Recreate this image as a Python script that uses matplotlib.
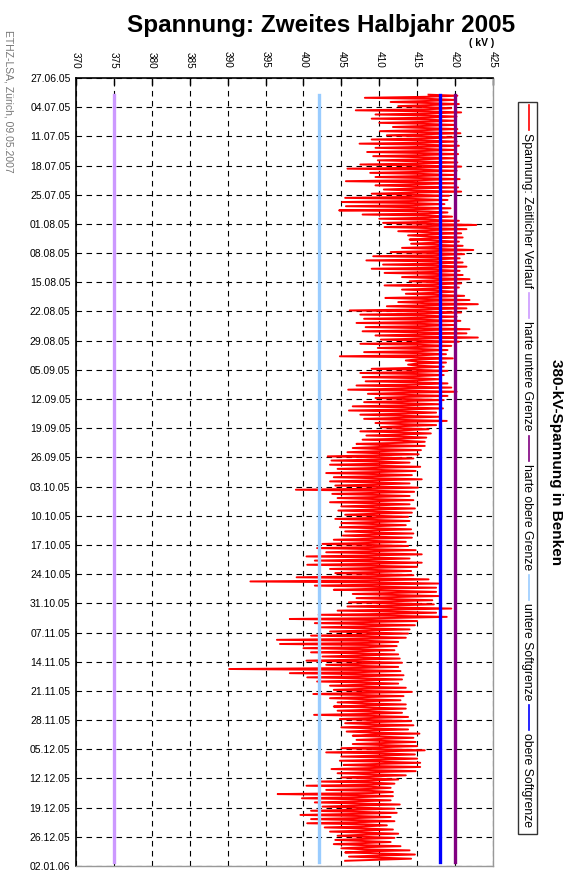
import numpy as np
import pandas as pd
import matplotlib
matplotlib.use("Agg")
import matplotlib.pyplot as plt
import matplotlib.dates as mdates
from matplotlib.lines import Line2D
from matplotlib.patches import Rectangle

plt.rcParams['font.family'] = ['Liberation Sans', 'DejaVu Sans']

# Tageshöchst- und Tagestiefstwerte der Spannung in Benken (kV), 1.7. - 31.12.2005
tage = pd.date_range("2005-07-01", "2005-12-31", freq="D")
hoch = [
    420.3, 420.0, 420.5, 419.5, 420.8, 420.2, 419.8,
    420.0, 420.3, 420.7, 419.8, 420.2, 420.5, 420.0,
    420.4, 420.0, 420.3, 420.8, 420.2, 419.8, 420.6,
    420.1, 420.4, 420.8, 419.2, 419.0, 418.6, 419.4,
    419.0, 419.6, 420.5, 422.8, 421.5, 420.8, 421.0,
    420.5, 421.0, 422.4, 421.2, 420.6, 421.0, 421.5,
    420.6, 421.0, 421.9, 420.8, 420.5, 420.0, 421.2,
    421.9, 423.0, 421.5, 420.8, 420.2, 420.7, 419.8,
    421.9, 421.5, 423.0, 420.5, 419.5, 419.0, 418.8,
    419.7, 418.8, 418.5, 419.0, 418.5, 418.0, 419.0,
    419.5, 420.2, 419.0, 418.5, 418.0, 418.4, 417.5,
    418.0, 418.9, 417.5, 416.5, 416.8, 416.2, 416.0,
    416.0, 415.5, 415.2, 414.5, 414.0, 415.4, 414.8,
    414.3, 415.6, 414.0, 415.1, 414.6, 414.0, 414.5,
    414.0, 414.7, 414.3, 413.8, 414.0, 413.5, 414.2,
    414.5, 414.3, 413.5, 413.8, 414.8, 415.6, 414.0,
    415.6, 415.0, 414.2, 414.5, 416.5, 417.8, 417.5,
    417.5, 417.8, 417.0, 417.2, 419.5, 417.5, 418.9,
    415.0, 414.7, 414.0, 413.8, 413.5, 412.5, 412.3,
    412.0, 412.5, 412.7, 413.0, 412.5, 412.8, 413.2,
    413.0, 412.5, 413.5, 414.3, 413.2, 412.8, 413.5,
    413.5, 413.0, 413.8, 414.2, 414.5, 413.8, 415.3,
    414.5, 414.8, 415.0, 416.0, 414.7, 415.0, 415.4,
    415.4, 414.8, 413.5, 412.5, 412.0, 411.5, 411.8,
    411.8, 411.5, 412.7, 412.0, 412.3, 411.5, 412.0,
    411.0, 411.8, 412.5, 412.0, 411.5, 412.8, 414.0,
    414.7, 414.2,
]
tief = [
    408.1, 411.5, 412.5, 406.9, 409.5, 409.0, 410.0,
    411.8, 410.1, 411.0, 409.0, 407.4, 409.5, 408.4,
    409.2, 409.8, 407.5, 405.8, 408.8, 409.5, 405.6,
    409.5, 410.6, 409.0, 405.5, 405.1, 405.6, 404.7,
    407.8, 410.0, 410.5, 410.7, 412.5, 413.8, 414.0,
    414.2, 413.0, 411.5, 409.2, 408.3, 410.5, 409.0,
    410.7, 413.0, 414.0, 410.7, 413.0, 413.5, 410.8,
    412.5, 411.0, 406.1, 407.5, 408.0, 407.0, 408.2,
    407.8, 409.5, 410.2, 407.5, 409.8, 408.0, 404.8,
    413.5, 413.8, 409.0, 407.5, 407.8, 408.2, 407.0,
    405.9, 408.5, 409.5, 408.0, 406.5, 406.0, 407.5,
    408.0, 409.5, 410.2, 407.5, 408.3, 407.8, 407.0,
    406.5, 405.8, 403.2, 403.7, 403.5, 404.5, 403.0,
    404.0, 403.5, 404.2, 399.0, 403.8, 404.5, 403.5,
    405.0, 404.6, 405.5, 404.2, 405.0, 404.8, 405.5,
    405.2, 404.0, 402.5, 401.8, 403.0, 400.4, 401.5,
    400.5, 403.5, 404.2, 399.1, 393.0, 401.5, 404.0,
    406.5, 407.0, 406.0, 405.8, 404.5, 402.0, 398.2,
    401.5, 402.2, 403.5, 401.0, 396.5, 396.9, 400.0,
    401.0, 402.5, 400.4, 403.0, 390.2, 398.2, 400.5,
    401.8, 403.5, 404.0, 401.3, 403.5, 404.5, 404.0,
    404.5, 401.4, 404.8, 405.5, 405.0, 405.7, 406.5,
    407.0, 406.5, 405.0, 403.0, 405.0, 404.8, 405.3,
    403.7, 404.5, 405.0, 402.0, 400.4, 403.0, 396.6,
    399.8, 401.5, 402.5, 401.0, 399.6, 401.0, 400.5,
    402.8, 403.5, 404.5, 404.2, 404.0, 405.0, 405.5,
    406.0, 405.5,
]
# typisches Spannungsniveau je Woche (ab 1.7.), um das die Werte pendeln
wochenmittel = [
    416.5, 416.0, 415.5, 414.5, 416.5, 417.5, 417.5, 416.0, 415.5,
    415.0, 413.5, 413.0, 410.0, 409.5, 409.5, 409.0, 409.5, 412.0,
    408.5, 407.5, 408.0, 409.0, 410.5, 409.0, 407.0, 408.0, 410.0,
]

# Grenzwerte (kV)
harte_untere = 375
harte_obere = 420
untere_soft = 402
obere_soft = 418

kv_ticks = list(range(370, 426, 5))
datum_ticks = pd.date_range("2005-06-27", "2006-01-02", freq="7D")

# pro Tag: Mittel -> Maximum -> Mittel -> Minimum
t = mdates.date2num(tage)
mittel = np.array([wochenmittel[i // 7] for i in range(len(t))])
zeit = np.empty(4 * len(t))
spannung = np.empty(4 * len(t))
for k, (off, werte) in enumerate([(0.0, mittel), (0.25, hoch), (0.5, mittel), (0.75, tief)]):
    zeit[k::4] = t + off
    spannung[k::4] = werte
zeit_grenze = [t[0], t[-1] + 1]

fig = plt.figure(figsize=(5.69, 8.71), dpi=100)
ax = fig.add_axes([76 / 569, 1 - 866 / 871, 417 / 569, 788 / 871])

linien = []
linien += ax.plot(spannung, zeit, color="#ff0000", lw=1.4, label="Spannung: Zeitlicher Verlauf")
linien += ax.plot([harte_untere] * 2, zeit_grenze, color="#cc99ff", lw=2.4, label="harte untere Grenze")
linien += ax.plot([harte_obere] * 2, zeit_grenze, color="#800080", lw=2.4, label="harte obere Grenze")
linien += ax.plot([untere_soft] * 2, zeit_grenze, color="#99ccff", lw=2.4, label="untere Softgrenze")
linien += ax.plot([obere_soft] * 2, zeit_grenze, color="#0000ff", lw=2.4, label="obere Softgrenze")

ax.set_xlim(370, 425)
ax.set_ylim(mdates.date2num(datum_ticks[-1]), mdates.date2num(datum_ticks[0]))
ax.xaxis.tick_top()
ax.set_xticks(kv_ticks)
ax.set_xticklabels([str(v) for v in kv_ticks], rotation=270)
ax.set_yticks(mdates.date2num(datum_ticks))
ax.set_yticklabels([d.strftime("%d.%m.%y") for d in datum_ticks])
ax.tick_params(axis="x", direction="in", length=5, width=1, pad=7, labelsize=7.2)
ax.tick_params(axis="y", length=0, pad=4, labelsize=7.5)
ax.grid(True, color="black", linestyle=(0, (5, 4)), linewidth=0.8)
ax.set_axisbelow(True)
for s in ["top", "left"]:
    ax.spines[s].set_color("black")
    ax.spines[s].set_linewidth(1.2)
for s in ["right", "bottom"]:
    ax.spines[s].set_color("#999999")
    ax.spines[s].set_linewidth(1.0)

fig.text(321 / 569, 1 - 32 / 871, "Spannung: Zweites Halbjahr 2005",
         fontsize=17.5, fontweight="bold", ha="center", va="baseline")
fig.text(482 / 569, 1 - 43 / 871, "( kV )", fontsize=7.5, fontweight="bold",
         ha="center", va="center")
fig.text(8 / 569, 1 - 30 / 871, "ETHZ-LSA, Zürich, 09.05.2007", rotation=270,
         fontsize=7.5, color="#777777", ha="center", va="top")
fig.text(556 / 569, 1 - 462 / 871, "380-kV-Spannung in Benken", rotation=270,
         fontsize=11, fontweight="bold", ha="center", va="center")

# senkrechte Legende rechts neben dem Diagramm
W, H = 569, 871
renderer = fig.canvas.get_renderer()
y = 105
for ln in linien:
    fig.add_artist(Line2D([529 / W, 529 / W], [1 - y / H, 1 - (y + 25) / H],
                          color=ln.get_color(), lw=1.2, transform=fig.transFigure))
    y += 28
    txt = fig.text(527 / W, 1 - y / H, ln.get_label(), rotation=270, fontsize=8.8,
                   ha="center", va="top")
    y += txt.get_window_extent(renderer).height + 5
fig.add_artist(Rectangle((518 / W, 1 - (y + 2) / H), 19 / W, (y + 2 - 102) / H,
                         fill=False, edgecolor="#333333", lw=1.0, transform=fig.transFigure))

fig.savefig("out.png", dpi=100)
